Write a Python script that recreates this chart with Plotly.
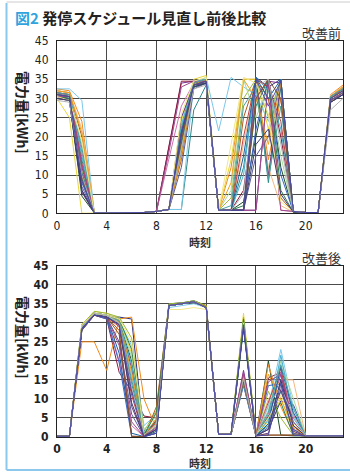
import plotly.graph_objects as go

hours = list(range(24))
x_ticks = [0, 4, 8, 12, 16, 20]
y_ticks = [0, 5, 10, 15, 20, 25, 30, 35, 40, 45]

title_prefix = "図2"
title_main = " 発停スケジュール見直し前後比較"
label_before = "改善前"
label_after = "改善後"
x_title = "時刻"
y_title = "電力量[kWh]"

colors = ["#2b2f7f", "#7b2f8f", "#8b1a3a", "#1e4d2b", "#2a8a8a", "#f08a1c", "#e8d53a",
          "#7cc8ea", "#d070b0", "#9ab83c", "#3a66c4", "#b05a1a", "#5c5c9c", "#f5b880",
          "#a8d8a0", "#45b0d0", "#6a3d7a", "#c04040", "#e8a020", "#2e7d4f", "#1a5f9e",
          "#9e4a8c", "#4aa0a0", "#f2e68a", "#805030", "#3c3c6e", "#b3b3b3", "#4b4ba6"]

# ---- 改善前 (before) ----
t01 = [30.5,30.0,6.0,0.1,0.1,0.1,0.1,0.2,0.5,1.0,20.0,33.5,34.0,0.8,0.8,0.8,35.5,33.0,35.0,0.5,0.2,0.2,29.5,31.5]
t02 = [31.5,31.0,12.0,0.1,0.1,0.1,0.1,0.2,0.5,17.0,34.0,34.5,34.5,0.8,0.8,0.8,0.8,34.5,34.0,0.5,0.2,0.2,30.0,32.0]
t03 = [31.0,30.5,10.0,0.1,0.1,0.1,0.1,0.2,0.5,17.5,34.5,34.5,34.5,0.8,0.8,6.0,30.0,35.0,20.0,0.5,0.2,0.2,30.5,32.5]
t04 = [30.0,29.5,4.5,0.1,0.1,0.1,0.1,0.2,0.5,1.0,22.0,33.0,34.0,0.8,0.8,3.0,20.0,35.0,12.0,0.5,0.2,0.2,29.0,31.0]
t05 = [30.5,30.5,14.0,0.1,0.1,0.1,0.1,0.2,0.5,1.0,1.0,27.0,33.5,0.8,0.8,12.0,35.0,8.0,33.0,0.5,0.2,0.2,29.5,31.5]
t06 = [32.5,32.0,24.0,0.1,0.1,0.1,0.1,0.2,0.5,1.0,18.0,34.0,35.0,0.8,12.0,35.0,35.0,14.0,30.0,0.5,0.2,0.2,31.0,33.5]
t07 = [30.0,25.0,0.0,0.1,0.1,0.1,0.1,0.2,0.5,1.0,24.0,35.0,36.0,0.8,14.0,35.0,35.0,22.0,35.0,0.5,0.2,0.2,29.0,32.0]
t08 = [32.5,32.5,29.5,0.1,0.1,0.1,0.1,0.2,0.5,1.0,1.0,34.0,35.5,21.5,35.5,33.0,31.0,24.0,35.0,0.5,0.2,0.2,30.5,32.5]
t09 = [31.0,31.0,16.0,0.1,0.1,0.1,0.1,0.2,0.5,14.0,28.0,34.0,34.5,0.8,0.8,0.8,30.0,35.0,0.8,0.5,0.2,0.2,30.0,32.0]
t10 = [31.5,31.0,11.0,0.1,0.1,0.1,0.1,0.2,0.5,1.0,19.0,34.0,34.5,0.8,4.0,30.0,35.0,25.0,35.0,0.5,0.2,0.2,30.0,32.5]
t11 = [31.0,30.5,8.0,0.1,0.1,0.1,0.1,0.2,0.5,1.0,16.0,33.0,34.0,0.8,0.8,0.8,22.0,35.0,10.0,0.5,0.2,0.2,29.5,31.5]
t12 = [32.0,31.5,20.0,0.1,0.1,0.1,0.1,0.2,0.5,1.0,14.0,33.5,34.5,0.8,0.8,25.0,35.0,30.0,4.0,0.3,0.2,0.2,30.5,33.0]
t13 = [30.5,30.0,7.0,0.1,0.1,0.1,0.1,0.2,0.5,1.0,12.0,32.5,34.0,0.8,0.8,0.8,15.0,20.0,35.0,0.5,0.2,0.2,29.5,31.0]
t14 = [32.0,31.5,22.0,0.1,0.1,0.1,0.1,0.2,0.5,1.0,20.0,34.0,35.0,0.8,0.8,18.0,34.0,12.0,2.0,0.3,0.2,0.2,31.0,33.0]
t15 = [31.0,30.5,18.0,0.1,0.1,0.1,0.1,0.2,0.5,1.0,17.0,33.5,34.5,0.8,6.0,35.0,25.0,33.0,15.0,0.5,0.2,0.2,30.0,32.0]
t16 = [31.5,31.0,15.0,0.1,0.1,0.1,0.1,0.2,0.5,1.0,23.0,34.5,35.0,0.8,0.8,10.0,35.5,32.0,22.0,0.5,0.2,0.2,30.5,32.5]
t17 = [30.0,29.5,5.5,0.1,0.1,0.1,0.1,0.2,0.5,1.0,25.0,33.5,34.0,0.8,0.8,0.8,35.0,10.0,34.0,0.5,0.2,0.2,29.0,31.0]
t18 = [31.5,31.0,13.0,0.1,0.1,0.1,0.1,0.2,0.5,1.0,21.0,34.0,34.5,0.8,0.8,20.0,35.0,33.0,24.0,0.5,0.2,0.2,30.0,32.5]
t19 = [32.0,31.5,21.0,0.1,0.1,0.1,0.1,0.2,0.5,1.0,15.0,33.5,35.0,0.8,8.0,35.0,30.0,18.0,34.0,0.5,0.2,0.2,30.5,33.0]
t20 = [30.5,30.0,9.0,0.1,0.1,0.1,0.1,0.2,0.5,1.0,18.0,33.0,34.0,0.8,0.8,2.0,28.0,35.0,6.0,0.3,0.2,0.2,29.5,31.5]
t21 = [31.0,30.5,10.5,0.1,0.1,0.1,0.1,0.2,0.5,1.0,20.0,33.5,34.5,0.8,0.8,15.0,35.5,30.0,35.0,0.5,0.2,0.2,30.0,32.0]
t22 = [30.5,30.5,12.5,0.1,0.1,0.1,0.1,0.2,0.5,16.0,33.0,34.5,34.5,0.8,0.8,0.8,0.8,34.0,0.8,0.5,0.2,0.2,29.5,31.5]
t23 = [31.5,31.0,17.0,0.1,0.1,0.1,0.1,0.2,0.5,1.0,22.0,34.0,35.0,0.8,2.0,28.0,33.0,9.0,28.0,0.5,0.2,0.2,30.5,32.5]
t24 = [30.5,29.5,19.0,0.1,0.1,0.1,0.1,0.2,0.5,1.0,26.0,34.5,35.5,0.8,18.0,35.5,34.0,26.0,3.0,0.5,0.2,0.2,30.0,32.0]
t25 = [31.0,30.5,9.5,0.1,0.1,0.1,0.1,0.2,0.5,1.0,19.0,33.5,34.5,0.8,0.8,0.8,30.0,35.0,30.0,0.5,0.2,0.2,30.0,32.0]
t26 = [30.0,29.5,6.0,0.1,0.1,0.1,0.1,0.2,0.5,1.0,21.0,33.0,34.0,0.8,0.8,0.8,18.0,22.0,5.0,0.3,0.2,0.2,29.0,31.0]
t27 = [29.5,29.0,10.0,0.1,0.1,0.1,0.1,0.2,0.5,1.0,17.0,32.5,33.5,0.8,0.8,5.0,33.0,35.0,18.0,0.5,0.2,0.2,27.0,30.0]
t28 = [31.0,30.5,8.5,0.1,0.1,0.1,0.1,0.2,0.5,1.0,21.0,33.5,34.5,0.8,0.8,0.8,35.0,28.0,34.5,0.5,0.2,0.2,30.0,32.0]

# ---- 改善後 (after) ----
b01 = [0.2,0.2,28.5,32.0,31.5,31.5,31.0,0.1,2.0,34.5,35.0,35.5,34.0,0.7,0.7,29.0,0.3,2.0,9.5,8.5,0.3,0.3,0.3,0.3]
b02 = [0.2,0.2,29.0,32.5,32.0,31.0,18.0,0.1,1.0,35.0,35.2,35.5,34.5,0.7,0.7,17.5,0.3,5.0,16.5,2.0,0.3,0.3,0.3,0.3]
b03 = [0.2,0.2,28.0,32.0,31.0,17.0,12.0,5.5,5.0,34.5,35.0,35.5,34.0,0.7,0.7,14.0,0.3,15.5,17.0,3.0,0.3,0.3,0.3,0.3]
b04 = [0.2,0.2,29.5,32.5,32.0,30.5,20.0,0.3,3.0,35.0,35.2,35.8,34.5,0.7,0.7,30.5,0.3,20.0,0.5,0.3,0.3,0.3,0.3,0.3]
b05 = [0.2,0.2,29.0,32.5,31.5,30.0,14.0,1.0,4.0,34.5,35.0,35.5,34.0,0.7,0.7,15.0,0.5,3.0,12.0,4.0,0.3,0.3,0.3,0.3]
b06 = [0.2,0.2,25.0,25.0,17.5,31.0,31.5,10.0,2.0,34.5,35.0,35.5,34.5,0.7,0.7,14.5,0.3,19.0,8.0,1.0,0.3,0.3,0.3,0.3]
b07 = [0.2,0.2,29.5,33.0,32.5,31.0,22.0,0.2,1.5,34.5,35.0,35.5,34.0,0.7,0.7,32.5,0.5,4.0,10.0,1.5,0.3,0.3,0.3,0.3]
b08 = [0.2,0.2,29.0,32.5,32.0,30.5,24.0,3.0,6.0,34.0,34.5,35.0,34.0,0.7,0.7,14.0,0.3,8.0,23.0,8.0,0.3,0.3,0.3,0.3]
b09 = [0.2,0.2,28.5,32.0,31.5,20.0,3.0,0.1,2.5,34.5,35.0,35.5,34.0,0.7,0.7,16.0,0.3,6.0,17.0,6.0,0.3,0.3,0.3,0.3]
b10 = [0.2,0.2,29.5,33.0,32.5,31.5,26.0,1.5,7.0,35.0,35.2,35.8,34.5,0.7,0.7,31.5,0.3,12.0,5.0,0.5,0.3,0.3,0.3,0.3]
b11 = [0.2,0.2,28.0,32.0,31.0,19.5,0.2,0.1,1.0,34.5,35.0,35.5,34.0,0.7,0.7,14.5,0.3,13.5,14.0,2.0,0.3,0.3,0.3,0.3]
b12 = [0.2,0.2,28.5,32.0,31.5,28.0,0.2,0.1,8.0,34.5,35.0,35.5,34.0,0.7,0.7,15.5,0.3,0.5,0.5,0.5,0.3,0.3,0.3,0.3]
b13 = [0.2,0.2,28.5,32.0,31.5,25.0,6.0,0.1,3.0,34.5,35.0,35.5,34.0,0.7,0.7,13.5,0.3,2.5,15.0,1.0,0.3,0.3,0.3,0.3]
b14 = [0.2,0.2,29.0,32.5,32.0,30.0,16.0,0.3,4.5,34.5,35.0,35.5,34.0,0.7,0.7,15.0,0.3,10.0,15.0,15.0,0.3,0.3,0.3,0.3]
b15 = [0.2,0.2,29.0,32.5,32.0,31.0,21.0,2.0,5.5,34.5,35.0,35.5,34.0,0.7,0.7,16.0,0.5,7.0,20.0,10.0,0.3,0.3,0.3,0.3]
b16 = [0.2,0.2,29.0,32.5,32.0,30.5,19.0,0.5,3.5,34.5,35.0,35.5,34.0,0.7,0.7,14.0,0.3,4.5,21.5,5.0,0.3,0.3,0.3,0.3]
b17 = [0.2,0.2,28.5,32.0,31.5,29.5,8.0,0.1,2.0,34.5,35.0,35.5,34.0,0.7,0.7,29.5,0.3,1.0,12.5,1.5,0.3,0.3,0.3,0.3]
b18 = [0.2,0.2,28.5,32.0,31.5,29.0,11.0,0.1,4.0,34.5,35.0,35.5,34.0,0.7,0.7,16.5,0.3,9.0,18.0,3.0,0.3,0.3,0.3,0.3]
b19 = [0.2,0.2,29.0,32.5,32.0,30.5,17.0,0.2,5.0,34.5,35.0,35.5,34.0,0.7,0.7,15.5,0.3,16.5,10.0,2.5,0.3,0.3,0.3,0.3]
b20 = [0.2,0.2,29.0,32.5,32.0,31.0,23.0,0.5,6.5,34.5,35.0,35.5,34.0,0.7,0.7,31.0,0.3,5.5,9.0,0.5,0.3,0.3,0.3,0.3]
b21 = [0.2,0.2,28.5,32.0,31.5,22.0,1.0,0.1,1.5,34.5,35.0,35.5,34.0,0.7,0.7,28.5,0.3,3.5,18.5,6.5,0.3,0.3,0.3,0.3]
b22 = [0.2,0.2,28.5,32.0,31.5,24.0,4.0,0.1,2.5,34.5,35.0,35.5,34.0,0.7,0.7,17.0,0.3,14.5,16.5,4.0,0.3,0.3,0.3,0.3]
b23 = [0.2,0.2,29.0,32.5,32.0,30.5,15.0,1.5,4.0,34.5,35.0,35.5,34.0,0.7,0.7,15.0,0.5,6.5,19.0,7.5,0.3,0.3,0.3,0.3]
b24 = [0.2,0.2,29.5,32.5,32.0,31.0,25.0,0.5,3.0,33.5,33.5,34.0,33.5,0.7,0.7,30.0,0.5,5.0,11.0,3.5,0.3,0.3,0.3,0.3]
b25 = [0.2,0.2,28.5,32.0,31.5,27.0,0.1,0.1,4.5,34.5,35.0,35.5,34.0,0.7,0.7,14.5,0.5,0.5,0.5,0.5,0.3,0.3,0.3,0.3]
b26 = [0.2,0.2,28.5,32.0,31.5,29.5,9.0,0.1,2.0,34.5,35.0,35.5,34.0,0.7,0.7,29.0,0.3,2.0,15.0,3.0,0.3,0.3,0.3,0.3]
b27 = [0.2,0.2,29.0,32.5,32.0,30.0,13.0,0.5,3.5,34.5,35.0,35.5,34.0,0.7,0.7,15.5,0.3,8.5,13.0,5.5,0.3,0.3,0.3,0.3]
b28 = [0.2,0.2,28.5,32.0,31.5,29.5,12.0,0.1,1.0,34.5,35.0,35.5,34.0,0.7,0.7,29.5,0.3,0.5,14.0,0.5,0.3,0.3,0.3,0.3]

before_series = [t01, t02, t03, t04, t05, t06, t07, t08, t09, t10, t11, t12, t13, t14,
                 t15, t16, t17, t18, t19, t20, t21, t22, t23, t24, t25, t26, t27, t28]
after_series = [b01, b02, b03, b04, b05, b06, b07, b08, b09, b10, b11, b12, b13, b14,
                b15, b16, b17, b18, b19, b20, b21, b22, b23, b24, b25, b26, b27, b28]

fig = go.Figure()
for i, s in enumerate(before_series):
    fig.add_trace(go.Scatter(x=hours, y=s, mode="lines", xaxis="x", yaxis="y",
                             line=dict(color=colors[i % len(colors)], width=1),
                             showlegend=False, hoverinfo="skip"))
for i, s in enumerate(after_series):
    fig.add_trace(go.Scatter(x=hours, y=s, mode="lines", xaxis="x2", yaxis="y2",
                             line=dict(color=colors[i % len(colors)], width=1),
                             showlegend=False, hoverinfo="skip"))

TICK_FAMILY = "Liberation Sans Narrow, DejaVu Sans Condensed, Arial Narrow, sans-serif"
JP = "Noto Sans CJK JP, sans-serif"
GRID = "#4a4a4a"

def xax(anchor, bold):
    return dict(anchor=anchor, domain=[0, 1], range=[0, 23], tickvals=x_ticks,
                showgrid=True, gridcolor=GRID, gridwidth=1, zeroline=False,
                showline=True, linecolor="#222", linewidth=1, mirror=True,
                ticks="", ticklabelstandoff=1,
                tickfont=dict(family=TICK_FAMILY, size=12, color="#222",
                              weight="bold" if bold else "normal"))

def yax(anchor, domain, bold):
    return dict(anchor=anchor, domain=domain, range=[0, 45], tickvals=y_ticks,
                showgrid=True, gridcolor=GRID, gridwidth=1, zeroline=False,
                showline=True, linecolor="#222", linewidth=1, mirror=True,
                ticks="", ticklabelstandoff=5,
                tickfont=dict(family=TICK_FAMILY, size=12, color="#222",
                              weight="bold" if bold else "normal"))

L, R, T, B = 57, 7, 41, 37
H = 474 - T - B

def py(p):
    return (474 - B - p) / H

def px(p):
    return (p - L) / (350 - L - R)

fig.update_layout(
    width=350, height=474,
    margin=dict(l=L, r=R, t=T, b=B),
    paper_bgcolor="white", plot_bgcolor="white",
    xaxis=xax("y", False),
    yaxis=yax("x", [py(213.3), 1.0], False),
    xaxis2=xax("y2", True),
    yaxis2=yax("x2", [0.0, py(265.7)], True),
)

ann = [
    dict(text=f"<span style='color:#2fa3de'>{title_prefix}</span>{title_main}",
         x=px(13), y=py(17), xanchor="left", yanchor="middle",
         font=dict(family=JP, size=15, color="#222", weight="bold")),
    dict(text=label_before, x=1.0, y=py(32), xanchor="right", yanchor="middle",
         font=dict(family=JP, size=13, color="#333")),
    dict(text=label_after, x=1.0, y=py(257), xanchor="right", yanchor="middle",
         font=dict(family=JP, size=13, color="#333")),
    dict(text=x_title, x=0.5, y=py(242), xanchor="center", yanchor="middle",
         font=dict(family=JP, size=11, color="#333", weight="bold")),
    dict(text=x_title, x=0.5, y=py(463.5), xanchor="center", yanchor="middle",
         font=dict(family=JP, size=11, color="#333", weight="bold")),
    dict(text=y_title, x=px(23), y=py(112), xanchor="center", yanchor="middle",
         textangle=90, font=dict(family=JP, size=14, color="#222", weight="bold")),
    dict(text=y_title, x=px(23), y=py(337), xanchor="center", yanchor="middle",
         textangle=90, font=dict(family=JP, size=14, color="#222", weight="bold")),
]
for a in ann:
    a.update(xref="paper", yref="paper", showarrow=False)
fig.update_layout(annotations=ann)

fig.update_layout(shapes=[
    dict(type="line", xref="paper", yref="paper", x0=px(6.5), x1=px(6.5), y0=py(3), y1=py(470),
         line=dict(color="#8cc8ec", width=2)),
    dict(type="line", xref="paper", yref="paper", x0=px(6.5), x1=px(350), y0=py(470), y1=py(470),
         line=dict(color="#8cc8ec", width=2)),
    dict(type="line", xref="paper", yref="paper", x0=px(6.5), x1=px(350), y0=py(2), y1=py(2),
         line=dict(color="#cccccc", width=1)),
])

fig.write_html("out.html", config={"displayModeBar": False},
               post_script="document.body.style.margin='0';document.body.style.padding='0';")
